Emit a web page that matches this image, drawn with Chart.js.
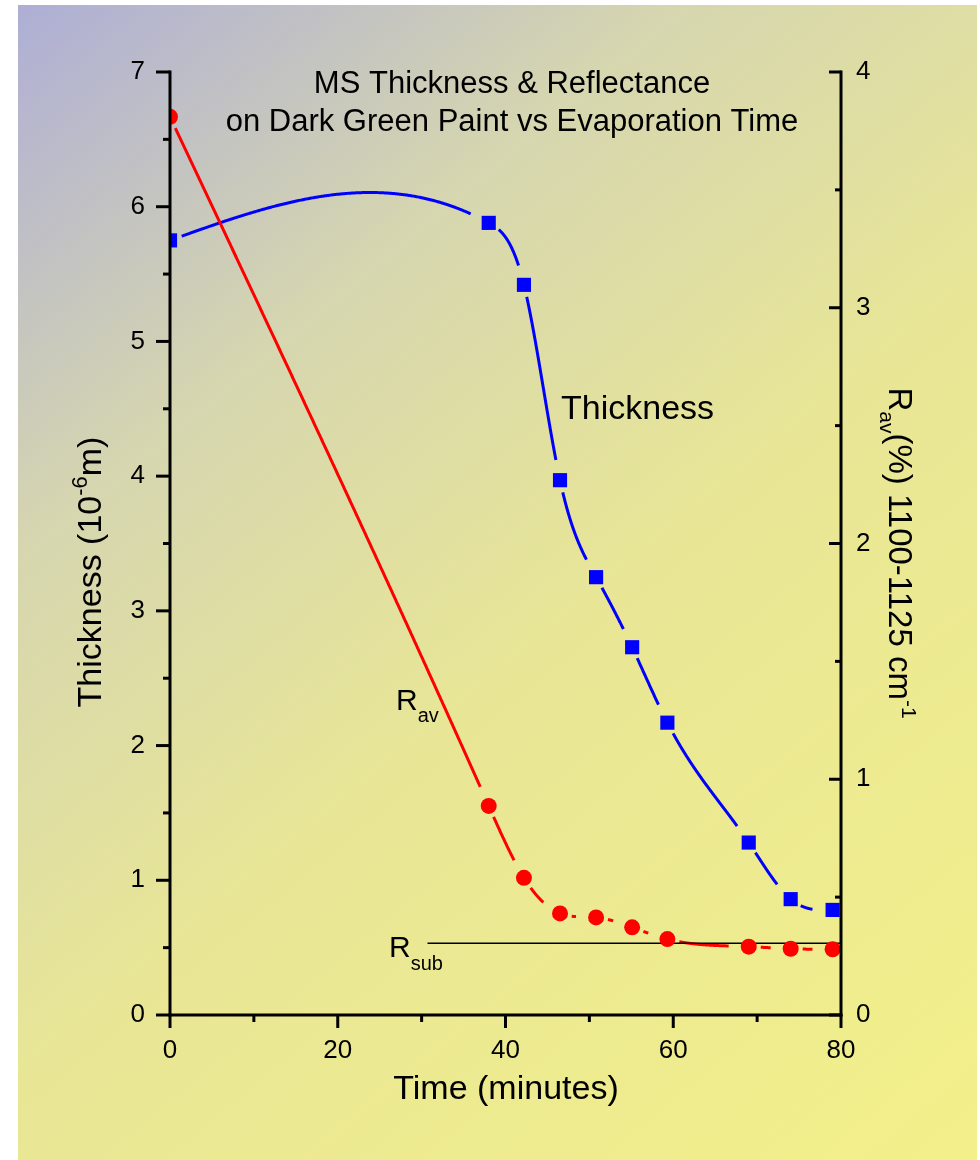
<!DOCTYPE html>
<html>
<head>
<meta charset="utf-8">
<title>MS Thickness &amp; Reflectance</title>
<script src="https://cdn.jsdelivr.net/npm/chart.js@4.4.1/dist/chart.umd.min.js"></script>
<style>
  body { margin: 0; background: #ffffff; }
  canvas { display: block; }
</style>
</head>
<body>
<canvas id="chart" width="980" height="1160"></canvas>
<script>
// evaporation time, minutes (same for both series)
var times = [0, 38, 42.2, 46.5, 50.8, 55.1, 59.3, 69, 74, 79];
// MS thickness, 10^-6 m  (left axis)
var thickness = [5.75, 5.88, 5.42, 3.97, 3.25, 2.73, 2.17, 1.28, 0.86, 0.78];
// average reflectance, % 1100-1125 cm-1  (right axis)
var reflectance = [3.81, 0.887, 0.582, 0.431, 0.414, 0.372, 0.322, 0.290, 0.281, 0.279];
// substrate reflectance (horizontal reference line, right axis)
var rsubTimes = [30.7, 80];
var rsubValue = 0.304;

// axis ranges / tick steps
var xRange = [0, 80], xStep = 20, xMinor = 10;
var leftRange = [0, 7], leftStep = 1, leftMinor = 0.5;
var rightRange = [0, 4], rightStep = 1, rightMinor = 0.5;

var FONT = "'Liberation Sans', Arial, sans-serif";
Chart.defaults.font.family = FONT;
Chart.defaults.color = '#000';

function toPoints(xs, ys) {
  var pts = [];
  for (var i = 0; i < xs.length; i++) pts.push({x: xs[i], y: ys[i]});
  return pts;
}

// natural cubic spline, like the one Origin draws
function naturalSpline(xs, ys) {
  var n = xs.length, h = [], alpha = [], l = [1], mu = [0], z = [0];
  var b = [], c = [], d = [];
  for (var i = 0; i < n - 1; i++) h[i] = xs[i + 1] - xs[i];
  for (var i = 1; i < n - 1; i++) {
    alpha[i] = 3 / h[i] * (ys[i + 1] - ys[i]) - 3 / h[i - 1] * (ys[i] - ys[i - 1]);
    l[i] = 2 * (xs[i + 1] - xs[i - 1]) - h[i - 1] * mu[i - 1];
    mu[i] = h[i] / l[i];
    z[i] = (alpha[i] - h[i - 1] * z[i - 1]) / l[i];
  }
  c[n - 1] = 0;
  for (var j = n - 2; j >= 0; j--) {
    c[j] = z[j] - mu[j] * c[j + 1];
    b[j] = (ys[j + 1] - ys[j]) / h[j] - h[j] * (c[j + 1] + 2 * c[j]) / 3;
    d[j] = (c[j + 1] - c[j]) / (3 * h[j]);
  }
  return function(seg, x) {
    var dx = x - xs[seg];
    return ys[seg] + b[seg] * dx + c[seg] * dx * dx + d[seg] * dx * dx * dx;
  };
}

function dist(p, q) { return Math.sqrt((p.x - q.x) * (p.x - q.x) + (p.y - q.y) * (p.y - q.y)); }

var bgPlugin = {
  id: 'bg',
  beforeDraw: function(chart) {
    var ctx = chart.ctx;
    ctx.save();
    ctx.fillStyle = '#ffffff';
    ctx.fillRect(0, 0, chart.width, chart.height);
    var g = ctx.createLinearGradient(18, 5, 977, 1160);
    g.addColorStop(0, '#aeaed6');
    g.addColorStop(0.28, '#d6d6b0');
    g.addColorStop(0.55, '#e8e696');
    g.addColorStop(1, '#f3f08a');
    ctx.fillStyle = g;
    ctx.fillRect(18, 5, 959, 1155);
    ctx.restore();
  }
};

// spline curves with gaps around the symbols
var curvePlugin = {
  id: 'curves',
  beforeDatasetsDraw: function(chart) {
    var ctx = chart.ctx, area = chart.chartArea;
    ctx.save();
    ctx.beginPath();
    ctx.rect(area.left, area.top, area.right - area.left, area.bottom - area.top);
    ctx.clip();
    chart.data.datasets.forEach(function(ds) {
      if (!ds.spline) return;
      var xs = ds.data.map(function(p) { return p.x; });
      var ys = ds.data.map(function(p) { return p.y; });
      var f = naturalSpline(xs, ys);
      var xScale = chart.scales.x, yScale = chart.scales[ds.yAxisID];
      ctx.strokeStyle = ds.backgroundColor;
      ctx.lineWidth = 3;
      for (var i = 0; i < xs.length - 1; i++) {
        var p0 = {x: xScale.getPixelForValue(xs[i]), y: yScale.getPixelForValue(ys[i])};
        var p1 = {x: xScale.getPixelForValue(xs[i + 1]), y: yScale.getPixelForValue(ys[i + 1])};
        var steps = 300, drawing = false;
        ctx.beginPath();
        for (var k = 0; k <= steps; k++) {
          var xv = xs[i] + (xs[i + 1] - xs[i]) * k / steps;
          var q = {x: xScale.getPixelForValue(xv), y: yScale.getPixelForValue(f(i, xv))};
          var ok = dist(q, p0) > ds.gapStart && dist(q, p1) > ds.gapEnd;
          if (ok && !drawing) { ctx.moveTo(q.x, q.y); drawing = true; }
          else if (ok) ctx.lineTo(q.x, q.y);
          else if (drawing) { ctx.stroke(); ctx.beginPath(); drawing = false; }
        }
        if (drawing) ctx.stroke();
      }
    });
    ctx.restore();
  }
};

// axis lines with major + minor ticks
var axesPlugin = {
  id: 'axes',
  afterDatasetsDraw: function(chart) {
    var ctx = chart.ctx, a = chart.chartArea;
    var xs = chart.scales.x, yl = chart.scales.y, yr = chart.scales.y1;
    function seg(x1, y1, x2, y2) { ctx.beginPath(); ctx.moveTo(x1, y1); ctx.lineTo(x2, y2); ctx.stroke(); }
    ctx.save();
    ctx.strokeStyle = '#000';
    ctx.lineWidth = 3;
    ctx.lineCap = 'square';
    seg(a.left, a.top, a.left, a.bottom);
    seg(a.left, a.bottom, a.right, a.bottom);
    seg(a.right, a.top, a.right, a.bottom);
    ctx.lineCap = 'butt';
    for (var v = leftRange[0]; v <= leftRange[1] + 1e-9; v += leftMinor) {
      var py = yl.getPixelForValue(v);
      seg(a.left - (v % leftStep === 0 ? 14 : 7), py, a.left, py);
    }
    for (var v = xRange[0]; v <= xRange[1] + 1e-9; v += xMinor) {
      var px = xs.getPixelForValue(v);
      seg(px, a.bottom, px, a.bottom + (v % xStep === 0 ? 13 : 7));
    }
    for (var v = rightRange[0]; v <= rightRange[1] + 1e-9; v += rightMinor) {
      var py = yr.getPixelForValue(v);
      seg(a.right - (v % rightStep === 0 ? 12 : 6), py, a.right, py);
    }
    ctx.restore();
  }
};

// text with sub/superscripts: parts = [[text, size, dy], ...]
function richWidth(ctx, parts) {
  var w = 0;
  parts.forEach(function(p) { ctx.font = p[1] + 'px ' + FONT; w += ctx.measureText(p[0]).width; });
  return w;
}
function drawRich(ctx, parts, x, y) {
  parts.forEach(function(p) {
    ctx.font = p[1] + 'px ' + FONT;
    ctx.fillText(p[0], x, y + (p[2] || 0));
    x += ctx.measureText(p[0]).width;
  });
}

var textPlugin = {
  id: 'texts',
  afterDraw: function(chart) {
    var ctx = chart.ctx;
    ctx.save();
    ctx.fillStyle = '#000';
    ctx.textBaseline = 'alphabetic';
    ctx.textAlign = 'left';

    // title
    var t1 = [['MS Thickness & Reflectance', 31]];
    var t2 = [['on Dark Green Paint vs Evaporation Time', 31]];
    drawRich(ctx, t1, 512 - richWidth(ctx, t1) / 2, 93);
    drawRich(ctx, t2, 512 - richWidth(ctx, t2) / 2, 131);

    // curve labels
    drawRich(ctx, [['Thickness', 34]], 561, 419);
    drawRich(ctx, [['R', 30], ['av', 20, 12]], 396, 710);
    drawRich(ctx, [['R', 30], ['sub', 20, 13]], 389, 957);

    // x title
    var xt = [['Time (minutes)', 34]];
    drawRich(ctx, xt, 506 - richWidth(ctx, xt) / 2, 1099);

    // left title, rotated
    var lt = [['Thickness (10', 34], ['-6', 22, -14], ['m)', 34]];
    ctx.save();
    ctx.translate(101, 572);
    ctx.rotate(-Math.PI / 2);
    drawRich(ctx, lt, -richWidth(ctx, lt) / 2, 0);
    ctx.restore();

    // right title, rotated the other way
    var rt = [['R', 33], ['av', 21, 9], ['(%) 1100-1125 cm', 33], ['-1', 21, -13]];
    ctx.save();
    ctx.translate(889, 553);
    ctx.rotate(Math.PI / 2);
    drawRich(ctx, rt, -richWidth(ctx, rt) / 2, 0);
    ctx.restore();

    ctx.restore();
  }
};

var chart = new Chart(document.getElementById('chart'), {
  type: 'scatter',
  data: {
    datasets: [
      {
        label: 'Thickness',
        data: toPoints(times, thickness),
        yAxisID: 'y',
        spline: true, gapStart: 12, gapEnd: 20,
        pointStyle: 'rect',
        pointRadius: 10,
        backgroundColor: '#0000ff',
        borderWidth: 0,
        showLine: false,
        clip: 0
      },
      {
        label: 'Rav',
        data: toPoints(times, reflectance),
        yAxisID: 'y1',
        spline: true, gapStart: 12, gapEnd: 20,
        pointStyle: 'circle',
        pointRadius: 8,
        backgroundColor: '#ff0000',
        borderWidth: 0,
        showLine: false,
        clip: 0
      },
      {
        label: 'Rsub',
        data: toPoints(rsubTimes, [rsubValue, rsubValue]),
        yAxisID: 'y1',
        showLine: true,
        pointRadius: 0,
        borderColor: '#000',
        borderWidth: 1.5,
        clip: 0
      }
    ]
  },
  options: {
    responsive: false,
    animation: false,
    events: [],
    layout: { padding: { top: 72, left: 0, right: 0, bottom: 0 } },
    plugins: { legend: { display: false }, tooltip: { enabled: false } },
    scales: {
      x: {
        type: 'linear', position: 'bottom',
        min: xRange[0], max: xRange[1],
        grid: { display: false, drawTicks: false },
        border: { display: false },
        ticks: { stepSize: xStep, padding: 20, font: { size: 26 } },
        afterFit: function(s) { s.height = 145; }
      },
      y: {
        type: 'linear', position: 'left',
        min: leftRange[0], max: leftRange[1],
        grid: { display: false, drawTicks: false },
        border: { display: false },
        ticks: { stepSize: leftStep, padding: 25, font: { size: 26 } },
        afterFit: function(s) { s.width = 170; }
      },
      y1: {
        type: 'linear', position: 'right',
        min: rightRange[0], max: rightRange[1],
        grid: { display: false, drawTicks: false },
        border: { display: false },
        ticks: { stepSize: rightStep, padding: 15, font: { size: 26 } },
        afterFit: function(s) { s.width = 139; }
      }
    }
  },
  plugins: [bgPlugin, curvePlugin, axesPlugin, textPlugin]
});
</script>
</body>
</html>
